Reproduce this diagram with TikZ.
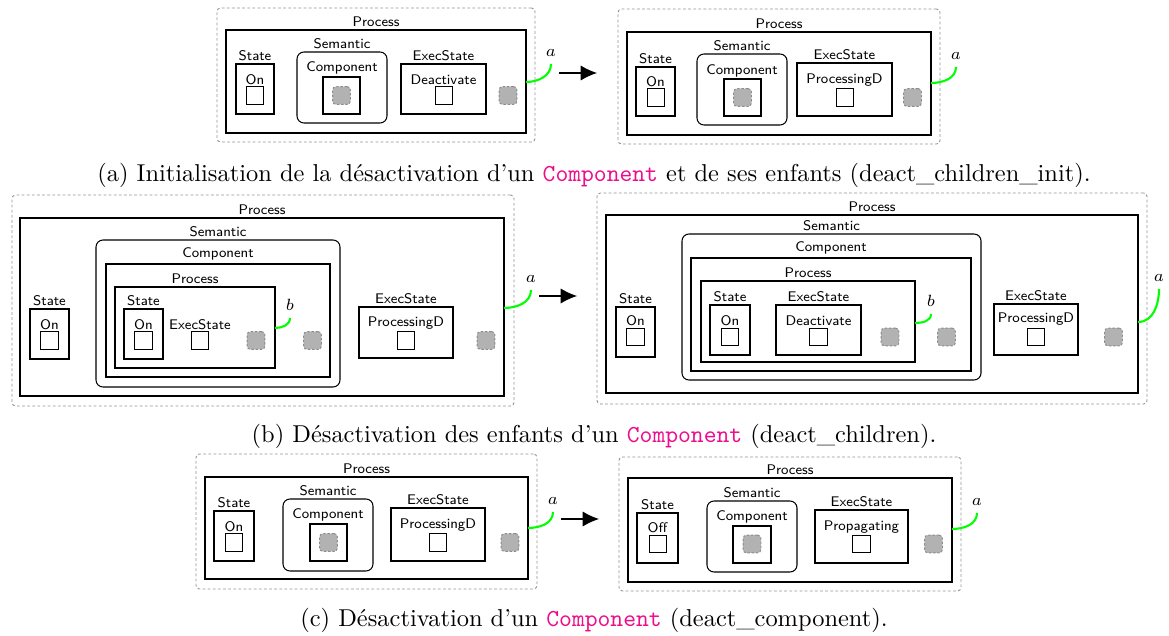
\documentclass[tikz,border=0pt]{standalone}
\usepackage{fontspec}
\usepackage{xcolor}
\usepackage{tikz}
\usetikzlibrary{arrows.meta, positioning, fit}

\definecolor{compcol}{rgb}{0.93,0.05,0.55}

\begin{document}
\begin{tikzpicture}[
  x=0.43pt, y=-0.43pt,
  ttl/.style={font=\fontsize{6}{7}\selectfont\sffamily, inner sep=1pt},
  lbl/.style={font=\fontsize{7}{8}\selectfont, inner sep=1.2pt},
  outer/.style={draw=gray!85, dash pattern=on 1.2pt off 1pt, rounded corners=1.5pt,
               inner sep=0pt, line width=0.4pt},
  proc/.style={draw, line width=0.5pt, inner sep=0pt},
  cbox/.style={draw, line width=0.45pt, inner sep=0pt},
  sem/.style={cbox, rounded corners=3pt},
  sq/.style={draw, line width=0.45pt, minimum size=7.5pt, inner sep=0pt},
  port/.style={draw=gray!90, dash pattern=on 1pt off 0.8pt, fill=gray!60,
               rounded corners=1.5pt, minimum size=7.7pt, inner sep=0pt},
  link/.style={green, line width=0.9pt},
  arr/.style={-{Latex[length=7pt,width=6.5pt]}, line width=0.5pt},
  captxt/.style={font=\fontsize{10.5}{12}\selectfont, inner sep=0pt}
]
\useasboundingbox (0,0) rectangle (1169,636);

%% --- (a) left: before ---
\node[outer, fit={(217,8) (535,142)}] (a1o) {};
\node[proc, fit={(226,30) (526,133)}] (a1p) {};
\node[ttl, above=0pt of a1p] (a1pt) {Process};
\node[cbox, fit={(236,64) (274,114)}] (a1s) {};
\node[ttl, above=0pt of a1s] (a1stt) {State};
\node[ttl] (a1st) at (255,80) {On};
\node[sq] (a1ssq) at (255,95.5) {};
\node[sem, fit={(297,52) (387,123)}] (a1m) {};
\node[ttl, above=0pt of a1m] (a1mt) {Semantic};
\node[ttl] (a1ct) at (342,68) {Component};
\node[cbox, fit={(323,77) (360,114)}] (a1c) {};
\node[port] (a1cp) at (341.5,95.5) {};
\node[cbox, fit={(401,64) (486,114)}] (a1e) {};
\node[ttl, above=0pt of a1e] (a1ett) {ExecState};
\node[ttl] (a1et) at (443.5,80) {Deactivate};
\node[sq] (a1esq) at (444,95.5) {};
\node[port] (a1pp) at (508,95.5) {};
\coordinate (a1l0) at (526,82);
\coordinate (a1l1) at (551,64);
\draw[link] (a1l0) to[out=0,in=-90] (a1l1);
\node[lbl, above=2pt of a1l1] (a1a) {$a$};

\coordinate (ax0) at (559,73);
\coordinate (ax1) at (597,73);
\draw[arr] (ax0) -- (ax1);

%% --- (a) right: after ---
\node[outer, fit={(618,9) (940,144)}] (a2o) {};
\node[proc, fit={(627,32) (931,135)}] (a2p) {};
\node[ttl, above=0pt of a2p] (a2pt) {Process};
\node[cbox, fit={(636,67) (675,116)}] (a2s) {};
\node[ttl, above=0pt of a2s] (a2stt) {State};
\node[ttl] (a2st) at (655.5,82) {On};
\node[sq] (a2ssq) at (656,97.5) {};
\node[sem, fit={(697,54) (787,125)}] (a2m) {};
\node[ttl, above=0pt of a2m] (a2mt) {Semantic};
\node[ttl] (a2ct) at (742,71) {Component};
\node[cbox, fit={(724,79) (761,116)}] (a2c) {};
\node[port] (a2cp) at (742.5,97.5) {};
\node[cbox, fit={(797,63) (892,116)}] (a2e) {};
\node[ttl, above=0pt of a2e] (a2ett) {ExecState};
\node[ttl] (a2et) at (844.5,80) {ProcessingD};
\node[sq] (a2esq) at (845,97.5) {};
\node[port] (a2pp) at (912.5,97.5) {};
\coordinate (a2l0) at (931,83);
\coordinate (a2l1) at (956,67);
\draw[link] (a2l0) to[out=0,in=-90] (a2l1);
\node[lbl, above=2pt of a2l1] (a2a) {$a$};

\node[captxt] (capa) at (594,175) {(a) Initialisation de la désactivation d'un
  \texttt{\color{compcol}Component} et de ses enfants (deact\_children\_init).};

%% --- (b) left: before ---
\node[outer, fit={(12,195) (514,406)}] (b1o) {};
\node[proc, fit={(20,218) (504,396)}] (b1p) {};
\node[ttl, above=0pt of b1p] (b1pt) {Process};
\node[cbox, fit={(30,309) (69,359)}] (b1s) {};
\node[ttl, above=0pt of b1s] (b1stt) {State};
\node[ttl] (b1st) at (49.5,325) {On};
\node[sq] (b1ssq) at (49.5,340.5) {};
\node[sem, fit={(96,240) (340,387)}] (b1m) {};
\node[ttl, above=0pt of b1m] (b1mt) {Semantic};
\node[cbox, fit={(106,264) (330,377)}] (b1c) {};
\node[ttl, above=0pt of b1c] (b1ct) {Component};
\node[cbox, fit={(115,287) (275,368)}] (b1q) {};
\node[ttl, above=0pt of b1q] (b1qt) {Process};
\node[cbox, fit={(124,309) (163,359)}] (b1qs) {};
\node[ttl, above=0pt of b1qs] (b1qstt) {State};
\node[ttl] (b1qst) at (143.5,325) {On};
\node[sq] (b1qssq) at (143.5,340.5) {};
\node[ttl] (b1qet) at (200,325) {ExecState};
\node[sq] (b1qesq) at (200,340.5) {};
\node[port] (b1qp) at (256,340.5) {};
\coordinate (b1k0) at (275,328);
\coordinate (b1k1) at (290,318);
\draw[link] (b1k0) to[out=0,in=-90] (b1k1);
\node[lbl, above=2pt of b1k1] (b1b) {$b$};
\node[port] (b1cp) at (312.5,340.5) {};
\node[cbox, fit={(359,307) (453,358)}] (b1e) {};
\node[ttl, above=0pt of b1e] (b1ett) {ExecState};
\node[ttl] (b1et) at (406,323) {ProcessingD};
\node[sq] (b1esq) at (406,340.5) {};
\node[port] (b1pp) at (486,340.5) {};
\coordinate (b1l0) at (504,308);
\coordinate (b1l1) at (531,290);
\draw[link] (b1l0) to[out=0,in=-90] (b1l1);
\node[lbl, above=2pt of b1l1] (b1a) {$a$};

\coordinate (bx0) at (539,296);
\coordinate (bx1) at (577,296);
\draw[arr] (bx0) -- (bx1);

%% --- (b) right: after ---
\node[outer, fit={(597,193) (1147,404)}] (b2o) {};
\node[proc, fit={(606,215) (1138,393)}] (b2p) {};
\node[ttl, above=0pt of b2p] (b2pt) {Process};
\node[cbox, fit={(616,307) (655,357)}] (b2s) {};
\node[ttl, above=0pt of b2s] (b2stt) {State};
\node[ttl] (b2st) at (635.5,321) {On};
\node[sq] (b2ssq) at (635.5,337) {};
\node[sem, fit={(682,234) (981,380)}] (b2m) {};
\node[ttl, above=0pt of b2m] (b2mt) {Semantic};
\node[cbox, fit={(691,258) (971,371)}] (b2c) {};
\node[ttl, above=0pt of b2c] (b2ct) {Component};
\node[cbox, fit={(701,281) (915,362)}] (b2q) {};
\node[ttl, above=0pt of b2q] (b2qt) {Process};
\node[cbox, fit={(710,305) (750,355)}] (b2qs) {};
\node[ttl, above=0pt of b2qs] (b2qstt) {State};
\node[ttl] (b2qst) at (730,321) {On};
\node[sq] (b2qssq) at (730,337) {};
\node[cbox, fit={(776,305) (861,355)}] (b2qe) {};
\node[ttl, above=0pt of b2qe] (b2qett) {ExecState};
\node[ttl] (b2qet) at (818.5,321) {Deactivate};
\node[sq] (b2qesq) at (818.5,337) {};
\node[port] (b2qp) at (890,337) {};
\coordinate (b2k0) at (915,323);
\coordinate (b2k1) at (931,314);
\draw[link] (b2k0) to[out=0,in=-90] (b2k1);
\node[lbl, above=2pt of b2k1] (b2b) {$b$};
\node[port] (b2cp) at (946.5,337) {};
\node[cbox, fit={(994,304) (1078,355)}] (b2e) {};
\node[ttl, above=0pt of b2e] (b2ett) {ExecState};
\node[ttl] (b2et) at (1036,319) {ProcessingD};
\node[sq] (b2esq) at (1036,337) {};
\node[port] (b2pp) at (1113.5,337) {};
\coordinate (b2l0) at (1138,322);
\coordinate (b2l1) at (1159,289);
\draw[link] (b2l0) to[out=0,in=-90] (b2l1);
\node[lbl, above=2pt of b2l1] (b2a) {$a$};

\node[captxt] (capb) at (594,436) {(b) Désactivation des enfants d'un
  \texttt{\color{compcol}Component} (deact\_children).};

%% --- (c) left: before ---
\node[outer, fit={(196,454) (537,589)}] (c1o) {};
\node[proc, fit={(205,477) (528,579)}] (c1p) {};
\node[ttl, above=0pt of c1p] (c1pt) {Process};
\node[cbox, fit={(214,511) (254,561)}] (c1s) {};
\node[ttl, above=0pt of c1s] (c1stt) {State};
\node[ttl] (c1st) at (234,527) {On};
\node[sq] (c1ssq) at (234,542.5) {};
\node[sem, fit={(283,499) (373,571)}] (c1m) {};
\node[ttl, above=0pt of c1m] (c1mt) {Semantic};
\node[ttl] (c1ct) at (328,515) {Component};
\node[cbox, fit={(310,524) (347,561)}] (c1c) {};
\node[port] (c1cp) at (328.5,542.5) {};
\node[cbox, fit={(391,508) (485,561)}] (c1e) {};
\node[ttl, above=0pt of c1e] (c1ett) {ExecState};
\node[ttl] (c1et) at (438,525) {ProcessingD};
\node[sq] (c1esq) at (438,542.5) {};
\node[port] (c1pp) at (510,542.5) {};
\coordinate (c1l0) at (528,528);
\coordinate (c1l1) at (553,512);
\draw[link] (c1l0) to[out=0,in=-90] (c1l1);
\node[lbl, above=2pt of c1l1] (c1a) {$a$};

\coordinate (cx0) at (561,519);
\coordinate (cx1) at (599,519);
\draw[arr] (cx0) -- (cx1);

%% --- (c) right: after ---
\node[outer, fit={(619,457) (961,591)}] (c2o) {};
\node[proc, fit={(628,478) (952,582)}] (c2p) {};
\node[ttl, above=0pt of c2p] (c2pt) {Process};
\node[cbox, fit={(637,513) (678,563)}] (c2s) {};
\node[ttl, above=0pt of c2s] (c2stt) {State};
\node[ttl] (c2st) at (657.5,528) {Off};
\node[sq] (c2ssq) at (658,544) {};
\node[sem, fit={(707,501) (797,572)}] (c2m) {};
\node[ttl, above=0pt of c2m] (c2mt) {Semantic};
\node[ttl] (c2ct) at (752,517) {Component};
\node[cbox, fit={(733,526) (771,563)}] (c2c) {};
\node[port] (c2cp) at (752,544) {};
\node[cbox, fit={(815,510) (908,563)}] (c2e) {};
\node[ttl, above=0pt of c2e] (c2ett) {ExecState};
\node[ttl] (c2et) at (861.5,527) {Propagating};
\node[sq] (c2esq) at (861.5,544) {};
\node[port] (c2pp) at (933.5,544) {};
\coordinate (c2l0) at (952,529);
\coordinate (c2l1) at (977,513);
\draw[link] (c2l0) to[out=0,in=-90] (c2l1);
\node[lbl, above=2pt of c2l1] (c2a) {$a$};

\node[captxt] (capc) at (594,620) {(c) Désactivation d'un
  \texttt{\color{compcol}Component} (deact\_component).};

\end{tikzpicture}
\end{document}
